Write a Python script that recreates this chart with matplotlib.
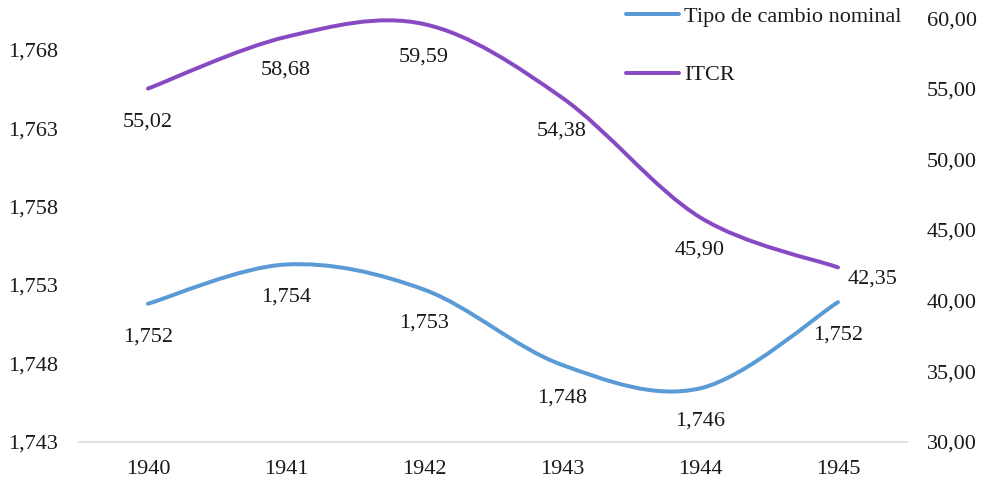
import matplotlib
matplotlib.use('Agg')
import matplotlib.pyplot as plt
from matplotlib.path import Path
from matplotlib.patches import PathPatch
from matplotlib.lines import Line2D
from matplotlib.ticker import FuncFormatter, FixedLocator
import numpy as np

# ---- data ----
years = ['1940', '1941', '1942', '1943', '1944', '1945']
nominal = [1.7518, 1.7543, 1.7527, 1.7479, 1.7464, 1.7519]
itcr = [55.02, 58.68, 59.59, 54.38, 45.90, 42.35]
left_ticks = [1.743, 1.748, 1.753, 1.758, 1.763, 1.768]
right_ticks = [30, 35, 40, 45, 50, 55, 60]
series_names = ['Tipo de cambio nominal', 'ITCR']

BLUE = '#5B9BD5'
PURPLE = '#8A4CC4'
PURPLE_DARK = '#6E34A6'
TXT = '#1a1a1a'
FONT = 'Liberation Serif'
FS = 16
PX = 72 / 100  # points per pixel at dpi 100

plt.rcParams['font.family'] = [FONT, 'DejaVu Serif']


def smooth_path(xs, ys):
    pts = np.column_stack([xs, ys]).astype(float)
    n = len(pts)
    verts = [pts[0]]
    codes = [Path.MOVETO]
    for i in range(n - 1):
        p0 = pts[i - 1] if i > 0 else pts[i]
        p1 = pts[i]
        p2 = pts[i + 1]
        p3 = pts[i + 2] if i + 2 < n else pts[i + 1]
        c1 = p1 + (p2 - p0) / 6.0
        c2 = p2 - (p3 - p1) / 6.0
        verts += [c1, c2, p2]
        codes += [Path.CURVE4] * 3
    return Path(verts, codes)


fig = plt.figure(figsize=(9.87, 4.84), dpi=100)
left, right = 79 / 987, 907 / 987
bottom, top = 1 - 441.7 / 484, 1 - 18.3 / 484
ax = fig.add_axes([left, bottom, right - left, top - bottom])
ax2 = ax.twinx()

x = np.arange(len(years))

LW = 4.0 * PX
# nominal (left axis)
ax.add_patch(PathPatch(smooth_path(x, nominal), fill=False, edgecolor=BLUE,
                       lw=LW, capstyle='round', joinstyle='round'))
# ITCR (right axis)
ax2.add_patch(PathPatch(smooth_path(x, itcr), fill=False, edgecolor=PURPLE,
                        lw=LW, capstyle='round', joinstyle='round'))
ax2.add_patch(PathPatch(smooth_path(x, itcr), fill=False, edgecolor=PURPLE_DARK,
                        lw=0.9 * PX, linestyle=(0, (1, 2)), alpha=0.6))

ax.set_xlim(-0.5, len(years) - 0.5)
ax.set_ylim(1.743, 1.770)
ax2.set_ylim(30, 60)

ax.xaxis.set_major_locator(FixedLocator(x))
ax.set_xticklabels(years)
ax.yaxis.set_major_locator(FixedLocator(left_ticks))
ax.yaxis.set_major_formatter(FuncFormatter(lambda v, p: f"{v:.3f}".replace('.', ',')))
ax2.yaxis.set_major_locator(FixedLocator(right_ticks))
ax2.yaxis.set_major_formatter(FuncFormatter(lambda v, p: f"{v:.2f}".replace('.', ',')))

ax.tick_params(axis='y', length=0, pad=21 * PX, labelsize=FS, colors=TXT)
ax.tick_params(axis='x', length=0, pad=18 * PX, labelsize=FS, colors=TXT)
ax2.tick_params(axis='y', length=0, pad=20 * PX, labelsize=FS, colors=TXT)

for a in (ax, ax2):
    for s in ('top', 'left', 'right', 'bottom'):
        a.spines[s].set_visible(False)
ax.spines['bottom'].set_visible(True)
ax.spines['bottom'].set_color('#D9D9D9')
ax.spines['bottom'].set_linewidth(1.6 * PX)

# data labels
off = -33 * PX
for i, v in enumerate(nominal):
    ax.annotate(f"{v:.3f}".replace('.', ','), (x[i], v), xytext=(0, off),
                textcoords='offset points', ha='center', va='center',
                fontsize=FS, color=TXT)
for i, v in enumerate(itcr):
    if i == len(itcr) - 1:
        xy_off, ha = (10 * PX, -12 * PX), 'left'
    else:
        xy_off, ha = (0, off), 'center'
    ax2.annotate(f"{v:.2f}".replace('.', ','), (x[i], v), xytext=xy_off,
                 textcoords='offset points', ha=ha, va='center',
                 fontsize=FS, color=TXT)

handles = [Line2D([], [], color=BLUE, lw=LW, solid_capstyle='round'),
           Line2D([], [], color=PURPLE, lw=LW, solid_capstyle='round')]
fig.legend(handles, series_names, loc='center left',
           bbox_to_anchor=(626 / 987, 1 - 46 / 484), frameon=False,
           borderpad=0, borderaxespad=0, handlelength=2.4, handletextpad=0.2,
           labelspacing=1.7, fontsize=FS, labelcolor=TXT)

fig.savefig('out.png', dpi=100)
